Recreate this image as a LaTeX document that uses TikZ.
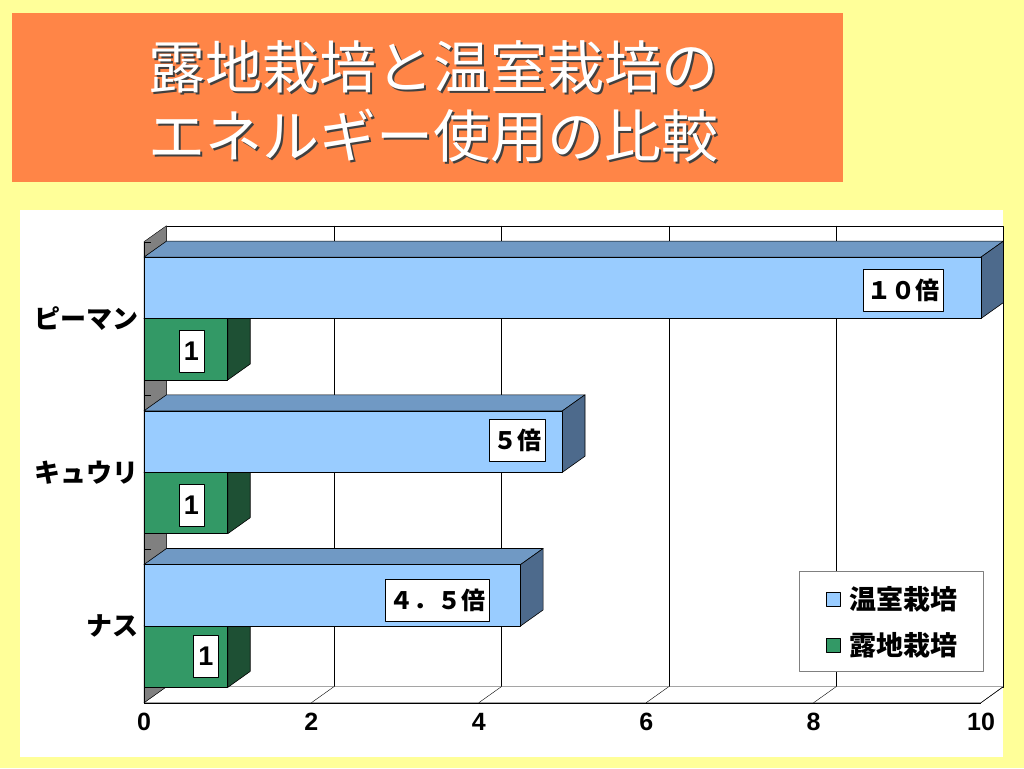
\documentclass[tikz,border=0pt]{standalone}
\usepackage{fontspec}
\setmainfont{Liberation Sans}
\newfontfamily\jp{Noto Sans CJK JP}
\usetikzlibrary{positioning}

\definecolor{bgyellow}{RGB}{255,255,153}
\definecolor{titleorange}{RGB}{255,133,71}
\definecolor{blufront}{RGB}{153,204,255}
\definecolor{blutop}{RGB}{112,153,196}
\definecolor{bluside}{RGB}{77,106,140}
\definecolor{grnfront}{RGB}{51,153,102}
\definecolor{grnside}{RGB}{30,80,52}
\definecolor{wallgray}{RGB}{128,128,128}

\tikzset{
  titletext/.style={anchor=base west, inner sep=0pt, text=white, font=\jp\fontsize{57}{70}\selectfont},
  vallabel/.style={draw=black, fill=white, inner xsep=4pt, minimum height=42pt, font=\jp\bfseries\fontsize{24}{24}\selectfont},
  onelabel/.style={draw=black, fill=white, inner xsep=5pt, minimum height=42pt, font=\bfseries\fontsize{27}{27}\selectfont},
  catlabel/.style={anchor=east, inner sep=0pt, font=\jp\bfseries\fontsize{26}{26}\selectfont},
  ticklabel/.style={inner sep=0pt, font=\bfseries\fontsize{25}{25}\selectfont},
  legkey/.style={draw=black, minimum size=14pt, inner sep=0pt},
  legtext/.style={inner sep=0pt, font=\jp\bfseries\fontsize{27}{27}\selectfont}
}

% one 3D bar: top y, bottom y, value, front, top and side colours
\newcommand{\barblock}[6]{%
  \pgfmathsetmacro{\xend}{144+#3*83.7}
  \filldraw[fill=#5] (144,#1) -- ++(22.5,-16) -- (\xend+22.5,#1-16) -- (\xend,#1) -- cycle;
  \filldraw[fill=#6] (\xend,#1) -- (\xend+22.5,#1-16) -- (\xend+22.5,#2-16) -- (\xend,#2) -- cycle;
  \filldraw[fill=#4] (144,#1) rectangle (\xend,#2);
}

\begin{document}
\begin{tikzpicture}[x=1pt, y=-1pt, line join=round, semithick]

\fill[bgyellow] (0,0) rectangle (1024,768);
\useasboundingbox (0,0) rectangle (1024,768);

% title
\fill[titleorange] (12,13) rectangle (843,182);
\node[titletext, text=black!75] (title1s) at (150.5,90.5) {露地栽培と温室栽培の};
\node[titletext] (title1) at (148,88) {露地栽培と温室栽培の};
\node[titletext, text=black!75] (title2s) at (150.5,159.5) {エネルギー使用の比較};
\node[titletext] (title2) at (148,157) {エネルギー使用の比較};

% chart area
\fill[white] (20,210) rectangle (1003,757);

% back wall, grid, floor, left wall
\draw[thin] (166.5,225.7) rectangle (1003,686.7);
\foreach \v in {2,4,6,8}
  \draw[thin] (166.5+\v*83.7,225.7) -- (166.5+\v*83.7,686.7);
\filldraw[fill=white, thin] (144,702.7) -- (166.5,686.7) -- (1003,686.7) -- (981,702.7) -- cycle;
\foreach \v in {2,4,...,10}
  \draw[thin] (144+\v*83.7,702.7) -- ++(22.5,-16);
\filldraw[fill=wallgray, thin] (144,241.7) -- (166.5,225.7) -- (166.5,686.7) -- (144,702.7) -- cycle;
\foreach \yc in {241.7,395.4,549.1,702.7}
  \draw[thin] (144,\yc) -- (151,\yc);

% bars
\foreach \yt/\vb/\cat/\nm in {241.7/10/ピーマン/pim, 395.4/5/キュウリ/kyu, 549.1/4.5/ナス/nas}{
  \barblock{\yt+76.8}{\yt+138.3}{1}{grnfront}{grnfront}{grnside}
  \barblock{\yt+15.4}{\yt+76.8}{\vb}{blufront}{blutop}{bluside}
  \node[catlabel] (cat-\nm) at (139,\yt+76.8) {\cat};
}

% value labels
\node[vallabel] (val-pim) at (903,290) {１０倍};
\node[vallabel] (val-kyu) at (517,440) {５倍};
\node[vallabel] (val-nas) at (437.5,600) {４．５倍};
\node[onelabel] (one-pim) at (191.5,351.5) {1};
\node[onelabel] (one-kyu) at (191.5,505) {1};
\node[onelabel] (one-nas) at (206,656) {1};

% axis
\draw[thin] (144,241.7) -- (144,702.7) -- (981,702.7);
\foreach \v in {0,2,...,10}
  \node[ticklabel] (tick-\v) at (144+\v*83.7,722) {\v};

% legend
\node[draw=gray, fill=white, thin, minimum width=184pt, minimum height=100pt] (legend) at (891.3,620.7) {};
\node[legkey, fill=blufront] (key-hot) at (833,599) {};
\node[legtext, right=9pt of key-hot] (txt-hot) {温室栽培};
\node[legkey, fill=grnfront] (key-open) at (833,645) {};
\node[legtext, right=9pt of key-open] (txt-open) {露地栽培};

\end{tikzpicture}
\end{document}
